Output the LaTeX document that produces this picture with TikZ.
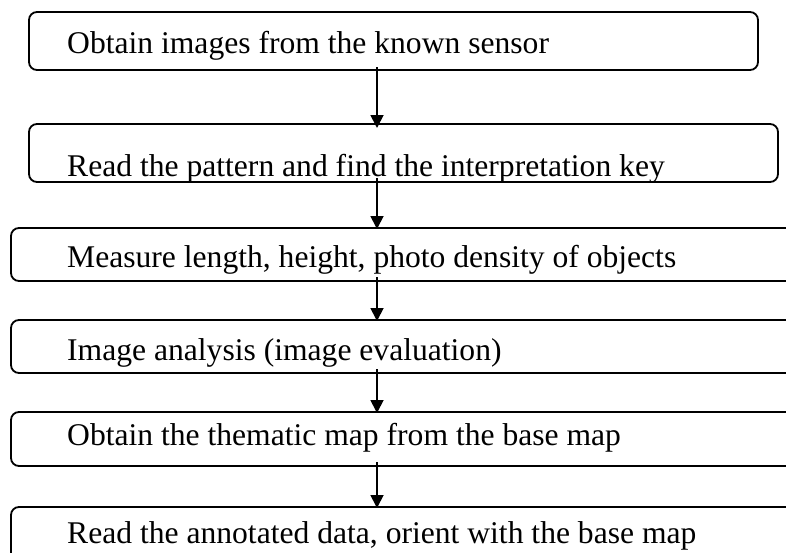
\documentclass[tikz,border=0pt]{standalone}
\usepackage{fontspec}
\setmainfont{Liberation Serif}
\usetikzlibrary{arrows.meta}
\begin{document}
\begin{tikzpicture}[x=1pt,y=-1pt,
  stepbox/.style={draw=black, line width=1.8pt, rounded corners=8pt, inner sep=0pt, outer sep=0pt},
  steptext/.style={anchor=base west, inner sep=0pt, font=\fontsize{31.6}{38}\selectfont},
  arr/.style={draw=black, line width=1.8pt, -{Triangle[width=13pt,length=13pt]}}]
\clip (0,0) rectangle (786,552);
\fill[white] (0,0) rectangle (786,552);
% boxes
\node[stepbox, minimum width=729pt, minimum height=58pt] (b1) at (393.5,41) {};
\node[stepbox, minimum width=749pt, minimum height=58pt] (b2) at (403.5,153) {};
\node[stepbox, minimum width=809pt, minimum height=53pt] (b3) at (415.5,254.5) {};
\node[stepbox, minimum width=809pt, minimum height=53pt] (b4) at (415.5,346.5) {};
\node[stepbox, minimum width=809pt, minimum height=54pt] (b5) at (415.5,439) {};
\node[stepbox, minimum width=809pt, minimum height=113pt] (b6) at (415.5,563.5) {};
% texts
\node[steptext] (t1) at (67,53) {Obtain images from the known sensor};
\node[steptext] (t2) at (67,176) {Read the pattern and find the interpretation key};
\node[steptext] (t3) at (67,267) {Measure length, height, photo density of objects};
\node[steptext] (t4) at (67,360) {Image analysis (image evaluation)};
\node[steptext] (t5) at (67,445) {Obtain the thematic map from the base map};
\node[steptext] (t6) at (67,543) {Read the annotated data, orient with the base map};
% arrows
\coordinate (ax) at (377,0);
\draw[arr] ([yshift=3pt]b1.south -| ax) -- ([yshift=-4pt]b2.north -| ax);
\draw[arr] ([yshift=4pt]b2.south -| ax) -- ([yshift=-1pt]b3.north -| ax);
\draw[arr] ([yshift=4pt]b3.south -| ax) -- ([yshift=-1pt]b4.north -| ax);
\draw[arr] ([yshift=4pt]b4.south -| ax) -- ([yshift=-1pt]b5.north -| ax);
\draw[arr] ([yshift=4pt]b5.south -| ax) -- ([yshift=-1pt]b6.north -| ax);
\end{tikzpicture}
\end{document}
